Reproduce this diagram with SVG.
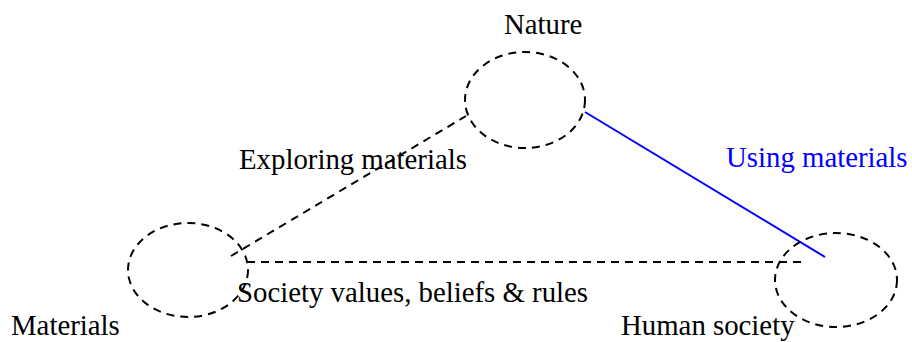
<svg xmlns="http://www.w3.org/2000/svg" width="912" height="342" viewBox="0 0 912 342">
<style>
.node{fill:none;stroke:#000;stroke-width:2;stroke-dasharray:8,6}
.dash{fill:none;stroke:#000;stroke-width:2;stroke-dasharray:8,6}
.solid{fill:none;stroke:#0000ff;stroke-width:2}
text{font-family:"Liberation Serif","Times New Roman",serif;font-size:28.8px;fill:#000}
.blue{fill:#0000ff}
</style>
<rect width="912" height="342" fill="#fff"/>
<g id="connectors">
<line class="dash" x1="231" y1="256" x2="466" y2="116"/>
<line class="solid" x1="585" y1="112" x2="825" y2="257"/>
<line class="dash" x1="247" y1="262" x2="803" y2="262"/>
<text x="239" y="169">Exploring materials</text>
<text class="blue" x="726" y="167">Using materials</text>
<text x="237" y="302">Society values, beliefs &amp; rules</text>
</g>
<g id="nature">
<ellipse class="node" cx="525" cy="100" rx="60" ry="48"/>
<text x="504" y="34">Nature</text>
</g>
<g id="materials">
<ellipse class="node" cx="188" cy="270" rx="60" ry="47"/>
<text x="11" y="335">Materials</text>
</g>
<g id="human-society">
<ellipse class="node" cx="836" cy="280" rx="61" ry="47"/>
<text x="621" y="335">Human society</text>
</g>
</svg>
